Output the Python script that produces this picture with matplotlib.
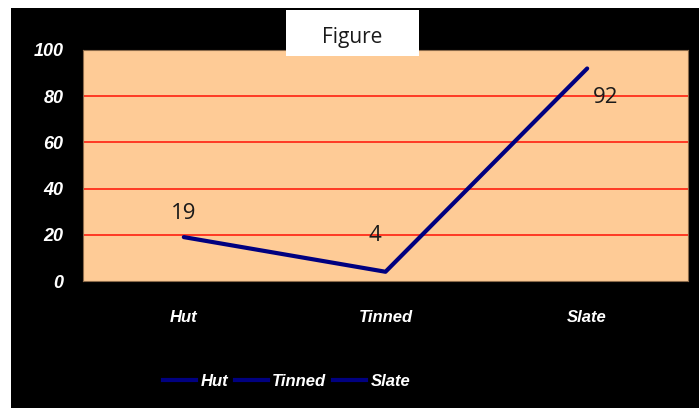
import matplotlib.pyplot as plt
from matplotlib.patches import Rectangle
from matplotlib.lines import Line2D

categories = ['Hut', 'Tinned', 'Slate']
values = [19, 4, 92]
yticks = [0, 20, 40, 60, 80, 100]

navy = '#000080'
narrow = ['Liberation Sans Narrow', 'Liberation Sans', 'DejaVu Sans']

fig = plt.figure(figsize=(6.99, 4.08), dpi=100)
fig.patch.set_facecolor('white')

# black chart area
fig.patches.append(Rectangle((11 / 699, 0), 1 - 11 / 699, 1 - 8 / 408,
                             transform=fig.transFigure, facecolor='black',
                             edgecolor='none', zorder=-5))

ax = fig.add_axes([83 / 699, 1 - 281 / 408, 605 / 699, 231 / 408])
ax.set_facecolor('#fecb96')

x = list(range(len(categories)))
ax.plot(x, values, color=navy, lw=3, solid_capstyle='round', zorder=3)

ax.set_xlim(-0.5, len(categories) - 0.5)
ax.set_ylim(0, 100)
ax.set_yticks(yticks)
ax.set_xticks(x)
ax.set_xticklabels(categories)

for y in yticks[1:-1]:
    ax.axhline(y, color='#ff2010', lw=1.2, zorder=1)

ax.tick_params(length=0)
ax.tick_params(axis='y', pad=14)
ax.tick_params(axis='x', pad=21)
for lab in ax.get_yticklabels():
    lab.set_fontfamily(['Liberation Sans', 'DejaVu Sans'])
    lab.set_fontsize(13)
    lab.set_fontweight('bold')
    lab.set_fontstyle('italic')
    lab.set_color('white')
for lab in ax.get_xticklabels():
    lab.set_fontfamily(narrow)
    lab.set_fontsize(12)
    lab.set_fontweight('bold')
    lab.set_fontstyle('italic')
    lab.set_color('white')

for s in ax.spines.values():
    s.set_color('#8a6a4a')
    s.set_linewidth(0.8)

# value labels
offsets = [(0, 17), (-8, 26), (13, -21)]
for xi, v, off in zip(x, values, offsets):
    ax.annotate(str(v), (xi, v), xytext=off, textcoords='offset points',
                ha='center', va='center', fontsize=16, color='#1a1a1a',
                family=['Open Sans', 'DejaVu Sans'])

# title box
fig.patches.append(Rectangle((286 / 699, 1 - 56 / 408), 133 / 699, 46 / 408,
                             transform=fig.transFigure, facecolor='white',
                             edgecolor='none', zorder=2))
fig.text(352 / 699, 1 - 37 / 408, 'Figure', ha='center', va='center',
         fontsize=15, color='#1a1a1a', family=['Open Sans', 'DejaVu Sans'],
         zorder=3)

handles = [Line2D([], [], color=navy, lw=3) for _ in categories]
leg = fig.legend(handles, categories, loc='center', bbox_to_anchor=(0.41, 0.066),
                 ncol=3, frameon=False, handlelength=2.0, handletextpad=0.25,
                 columnspacing=0.4,
                 prop={'family': narrow, 'size': 12, 'weight': 'bold', 'style': 'italic'})
for t in leg.get_texts():
    t.set_color('white')

fig.savefig('out.png', dpi=100)
